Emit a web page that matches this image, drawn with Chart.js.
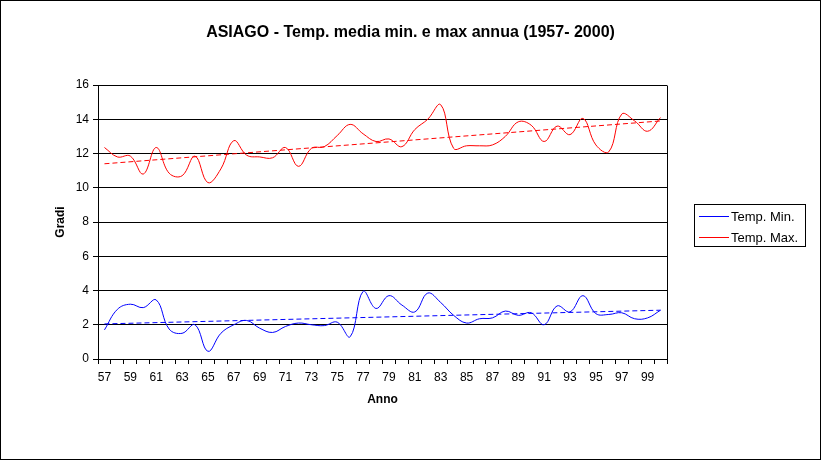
<!DOCTYPE html>
<html>
<head>
<meta charset="utf-8">
<title>ASIAGO - Temp. media min. e max annua</title>
<script src="https://cdn.jsdelivr.net/npm/chart.js@4/dist/chart.umd.min.js"></script>
<style>
  html, body { margin: 0; padding: 0; background: #fff; }
  canvas { display: block; }
</style>
</head>
<body>
<canvas id="chart" width="821" height="460"></canvas>
<script>
// Data (annual mean min / max temperature, Asiago)
var years = ['57', '58', '59', '60', '61', '62', '63', '64', '65', '66', '67',
  '68', '69', '70', '71', '72', '73', '74', '75', '76', '77', '78', '79', '80',
  '81', '82', '83', '84', '85', '86', '87', '88', '89', '90', '91', '92', '93',
  '94', '95', '96', '97', '98', '99', '00'];

var tempMin = [1.7, 2.9, 3.2, 3.0, 3.45, 1.75, 1.5, 2.0, 0.45, 1.5, 2.0,
  2.25, 1.8, 1.55, 1.9, 2.1, 2.0, 1.95, 2.15, 1.3, 3.95, 2.95, 3.7, 3.15,
  2.75, 3.85, 3.3, 2.55, 2.1, 2.35, 2.4, 2.8, 2.55, 2.7, 2.0, 3.1, 2.75,
  3.7, 2.65, 2.6, 2.7, 2.35, 2.4, 2.85];

var tempMax = [12.35, 11.8, 11.85, 10.8, 12.35, 10.85, 10.7, 11.85, 10.3, 11.1, 12.75,
  11.9, 11.8, 11.75, 12.35, 11.25, 12.3, 12.4, 13.05, 13.7, 13.15, 12.7, 12.85, 12.4,
  13.4, 14.0, 14.85, 12.3, 12.45, 12.45, 12.5, 13.0, 13.85, 13.65, 12.7, 13.6, 13.1,
  14.05, 12.5, 12.1, 14.3, 13.9, 13.3, 14.1];

// linear trend lines: value at first and last year
var trendMinEnds = [2.05, 2.85];
var trendMaxEnds = [11.4, 13.9];

var yTicks = [0, 2, 4, 6, 8, 10, 12, 14, 16];

var seriesNames = ['Temp. Min.', 'Temp. Max.'];
var seriesColors = ['#0000ff', '#ff0000'];

function trendSeries(ends) {
  var arr = years.map(function () { return null; });
  arr[0] = ends[0];
  arr[arr.length - 1] = ends[1];
  return arr;
}

// title, plot frame, legend and outer border
var decorations = {
  id: 'decorations',
  afterDraw: function (chart) {
    var ctx = chart.ctx;
    var area = chart.chartArea;
    ctx.save();

    ctx.fillStyle = '#000';
    ctx.font = 'bold 16px "Liberation Sans", Arial, sans-serif';
    ctx.textAlign = 'center';
    ctx.textBaseline = 'middle';
    ctx.fillText('ASIAGO - Temp. media min. e max annua (1957- 2000)', 410.5, 33);

    ctx.strokeStyle = '#000';
    ctx.lineWidth = 1;
    ctx.beginPath();
    ctx.moveTo(Math.round(area.right) + 0.5, Math.round(area.top) + 0.5);
    ctx.lineTo(Math.round(area.right) + 0.5, Math.round(area.bottom) + 0.5);
    ctx.stroke();

    // legend
    ctx.strokeRect(694.5, 204.5, 111, 42);
    ctx.font = '13px "Liberation Sans", Arial, sans-serif';
    ctx.textAlign = 'left';
    for (var i = 0; i < seriesNames.length; i++) {
      var y = 216 + i * 21;
      ctx.strokeStyle = seriesColors[i];
      ctx.beginPath();
      ctx.moveTo(699, y + 0.5);
      ctx.lineTo(729, y + 0.5);
      ctx.stroke();
      ctx.fillStyle = '#000';
      ctx.fillText(seriesNames[i], 731, y + 1);
    }

    ctx.strokeStyle = '#000';
    ctx.strokeRect(0.5, 0.5, chart.width - 1, chart.height - 1);
    ctx.restore();
  }
};

var ctx = document.getElementById('chart').getContext('2d');
var chart = new Chart(ctx, {
  type: 'line',
  data: {
    labels: years,
    datasets: [{
      label: seriesNames[0],
      data: tempMin,
      borderColor: seriesColors[0],
      borderWidth: 1,
      pointRadius: 0,
      tension: 0.4,
      fill: false
    }, {
      label: seriesNames[1],
      data: tempMax,
      borderColor: seriesColors[1],
      borderWidth: 1,
      pointRadius: 0,
      tension: 0.4,
      fill: false
    }, {
      label: 'trend min',
      data: trendSeries(trendMinEnds),
      borderColor: seriesColors[0],
      borderWidth: 1,
      borderDash: [5, 3],
      pointRadius: 0,
      spanGaps: true,
      fill: false
    }, {
      label: 'trend max',
      data: trendSeries(trendMaxEnds),
      borderColor: seriesColors[1],
      borderWidth: 1,
      borderDash: [5, 3],
      pointRadius: 0,
      spanGaps: true,
      fill: false
    }]
  },
  options: {
    responsive: false,
    animation: false,
    devicePixelRatio: 1,
    layout: { padding: { top: 85, right: 154, left: 0, bottom: 0 } },
    plugins: {
      legend: { display: false },
      title: { display: false },
      tooltip: { enabled: false }
    },
    scales: {
      x: {
        type: 'category',
        offset: true,
        grid: {
          offset: true,
          drawOnChartArea: false,
          drawTicks: true,
          tickLength: 5,
          color: '#000'
        },
        border: { color: '#000', width: 1 },
        ticks: {
          autoSkip: false,
          maxRotation: 0,
          minRotation: 0,
          padding: 6,
          color: '#000',
          font: { family: '"Liberation Sans", Arial, sans-serif', size: 12 },
          callback: function (value, index) {
            return index % 2 === 0 ? years[index] : '';
          }
        },
        title: {
          display: true,
          text: 'Anno',
          color: '#000',
          font: { family: '"Liberation Sans", Arial, sans-serif', size: 12, weight: 'bold' },
          padding: { top: 0, bottom: 53 }
        },
        afterFit: function (scale) { scale.height = 101; }
      },
      y: {
        min: 0,
        max: 16,
        afterBuildTicks: function (scale) {
          scale.ticks = yTicks.map(function (v) { return { value: v }; });
        },
        grid: {
          color: '#000',
          lineWidth: 1,
          drawTicks: true,
          tickLength: 5
        },
        border: { color: '#000', width: 1 },
        ticks: {
          padding: 4,
          color: '#000',
          font: { family: '"Liberation Sans", Arial, sans-serif', size: 12 }
        },
        title: {
          display: true,
          text: 'Gradi',
          color: '#000',
          font: { family: '"Liberation Sans", Arial, sans-serif', size: 12, weight: 'bold' },
          padding: { top: 53, bottom: 0 }
        },
        afterFit: function (scale) { scale.width = 98; }
      }
    }
  },
  plugins: [decorations]
});
</script>
</body>
</html>
